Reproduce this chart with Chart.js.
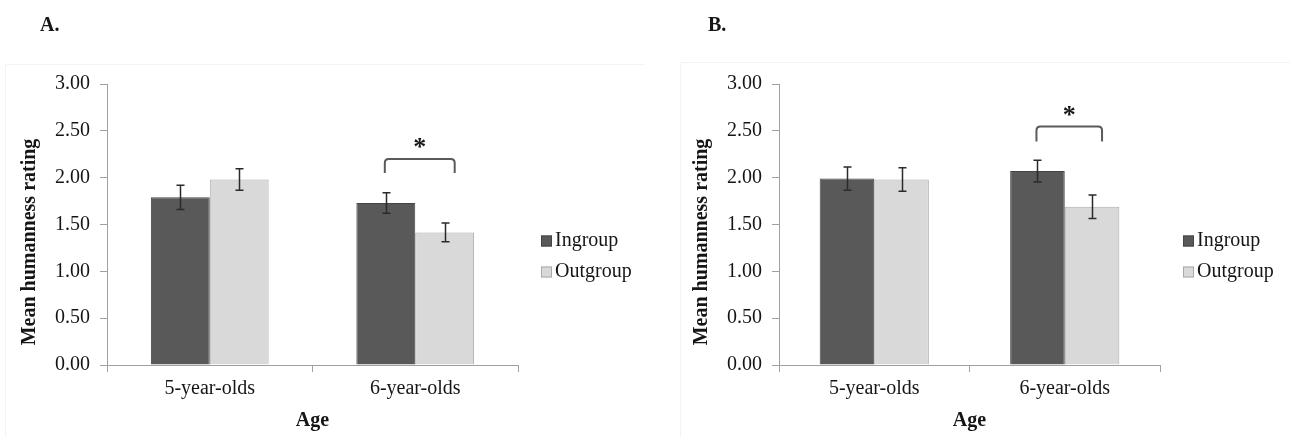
<!DOCTYPE html>
<html>
<head>
<meta charset="utf-8">
<script src="https://cdn.jsdelivr.net/npm/chart.js@4.4.1/dist/chart.umd.min.js"></script>
<style>
  html, body { margin: 0; padding: 0; background: #ffffff; }
  #wrap { position: relative; width: 1290px; height: 437px; overflow: hidden; }
  .panel { position: absolute; top: 0; width: 645px; height: 437px; }
  #pA { left: 0; }
  #pB { left: 645px; }
</style>
</head>
<body>
<div id="wrap">
  <div class="panel" id="pA"><canvas id="cA" width="645" height="437"></canvas></div>
  <div class="panel" id="pB"><canvas id="cB" width="645" height="437"></canvas></div>
</div>
<script>
// ---------------- data ----------------
const categories = ['5-year-olds', '6-year-olds'];
const seriesNames = ['Ingroup', 'Outgroup'];
const yTickLabels = ['0.00', '0.50', '1.00', '1.50', '2.00', '2.50', '3.00'];

const ingroupA = [1.79, 1.73];
const outgroupA = [1.98, 1.415];
const errIngroupA = [0.13, 0.11];
const errOutgroupA = [0.115, 0.10];
const bracketA = [2.05, 2.20];   // [leg end value, bar value] over 6-year-olds

const ingroupB = [1.99, 2.07];
const outgroupB = [1.98, 1.69];
const errIngroupB = [0.125, 0.115];
const errOutgroupB = [0.125, 0.125];
const bracketB = [2.385, 2.545];

const panelLetters = ['A.', 'B.'];
const yTitle = 'Mean humanness rating';
const xTitle = 'Age';
const sigMark = '*';

// ---------------- style ----------------
const FONT = "'Liberation Serif', 'Times New Roman', serif";
const TEXT = '#151515';
const AXIS = '#a0a0a0';
const IN_FILL = '#595959', IN_BORDER = '#454545';
const OUT_FILL = '#d9d9d9', OUT_BORDER = '#aaaaaa';

Chart.defaults.font.family = FONT;
Chart.defaults.font.size = 20;
Chart.defaults.color = TEXT;

const annot = {
  id: 'annot',
  beforeDraw(chart, args, o) {
    const ctx = chart.ctx;
    ctx.save();
    ctx.strokeStyle = '#f3f3f3';
    ctx.lineWidth = 1;
    ctx.beginPath();
    ctx.moveTo(o.frameX + 0.5, chart.height);
    ctx.lineTo(o.frameX + 0.5, o.frameY + 0.5);
    ctx.lineTo(chart.width, o.frameY + 0.5);
    ctx.stroke();
    ctx.restore();
  },
  afterDatasetsDraw(chart, args, o) {
    const ctx = chart.ctx;
    const ys = chart.scales.y;
    ctx.save();
    // error bars
    ctx.strokeStyle = '#2a2a2a';
    ctx.lineWidth = 1.5;
    o.errors.forEach((errs, di) => {
      const meta = chart.getDatasetMeta(di);
      meta.data.forEach((bar, i) => {
        const v = chart.data.datasets[di].data[i];
        const t = ys.getPixelForValue(v + errs[i]);
        const b = ys.getPixelForValue(v - errs[i]);
        const x = Math.round(bar.x) + 0.5;
        ctx.beginPath();
        ctx.moveTo(x, t); ctx.lineTo(x, b);
        ctx.moveTo(x - 4, t); ctx.lineTo(x + 4, t);
        ctx.moveTo(x - 4, b); ctx.lineTo(x + 4, b);
        ctx.stroke();
      });
    });
    // significance bracket
    const idx = o.bracketIndex;
    const x1 = chart.getDatasetMeta(0).data[idx].x - 1;
    const x2 = chart.getDatasetMeta(1).data[idx].x + 10;
    const yLeg = ys.getPixelForValue(o.bracket[0]);
    const yTop = ys.getPixelForValue(o.bracket[1]);
    const r = 4;
    ctx.strokeStyle = '#5a5a5a';
    ctx.lineWidth = 2;
    ctx.beginPath();
    ctx.moveTo(x1, yLeg);
    ctx.lineTo(x1, yTop + r);
    ctx.quadraticCurveTo(x1, yTop, x1 + r, yTop);
    ctx.lineTo(x2 - r, yTop);
    ctx.quadraticCurveTo(x2, yTop, x2, yTop + r);
    ctx.lineTo(x2, yLeg);
    ctx.stroke();
    ctx.fillStyle = TEXT;
    ctx.font = 'bold 26px ' + FONT;
    ctx.textAlign = 'center';
    ctx.textBaseline = 'alphabetic';
    ctx.fillText(sigMark, (x1 + x2) / 2, yTop - 4);
    ctx.restore();
  },
  afterDraw(chart, args, o) {
    const ctx = chart.ctx;
    const ca = chart.chartArea;
    ctx.save();
    ctx.fillStyle = TEXT;
    // panel letter
    ctx.font = 'bold 20px ' + FONT;
    ctx.textAlign = 'left';
    ctx.textBaseline = 'middle';
    ctx.fillText(o.letter, o.letterX, 26);
    // y title
    ctx.save();
    ctx.translate(ca.left - 77, 242);
    ctx.rotate(-Math.PI / 2);
    ctx.textAlign = 'center';
    ctx.textBaseline = 'middle';
    ctx.fillText(yTitle, 0, 0);
    ctx.restore();
    // legend
    const fills = [IN_FILL, OUT_FILL];
    const borders = [IN_BORDER, OUT_BORDER];
    ctx.font = '20px ' + FONT;
    ctx.textAlign = 'left';
    ctx.textBaseline = 'middle';
    chart.data.datasets.forEach((ds, i) => {
      const cy = 241 + i * 31;
      const bx = ca.right + 23;
      ctx.fillStyle = fills[i];
      ctx.fillRect(bx, cy - 5.5, 11, 11);
      ctx.strokeStyle = borders[i];
      ctx.lineWidth = 1;
      ctx.strokeRect(bx + 0.5, cy - 5, 10, 10);
      ctx.fillStyle = TEXT;
      ctx.fillText(ds.label, bx + 14, cy);
    });
    ctx.restore();
  }
};

function makeChart(id, inVals, outVals, inErr, outErr, bracket, opts) {
  return new Chart(document.getElementById(id), {
    type: 'bar',
    data: {
      labels: categories,
      datasets: [
        { label: seriesNames[0], data: inVals, backgroundColor: IN_FILL, borderColor: IN_BORDER, borderWidth: 1 },
        { label: seriesNames[1], data: outVals, backgroundColor: OUT_FILL, borderColor: OUT_BORDER, borderWidth: 1 }
      ]
    },
    options: {
      responsive: false,
      animation: false,
      devicePixelRatio: 1,
      categoryPercentage: 0.573,
      barPercentage: 1.0,
      layout: { padding: { top: 84, bottom: 0, left: opts.padLeft, right: opts.padRight } },
      plugins: {
        legend: { display: false },
        tooltip: { enabled: false },
        annot: {
          errors: [inErr, outErr],
          bracket: bracket,
          bracketIndex: 1,
          letter: opts.letter,
          letterX: opts.letterX,
          frameX: opts.frameX,
          frameY: opts.frameY
        }
      },
      scales: {
        x: {
          type: 'category',
          offset: true,
          grid: { offset: true, drawOnChartArea: false, drawTicks: true, tickLength: 7, color: AXIS },
          border: { color: AXIS, width: 1 },
          ticks: { padding: 5, color: TEXT, font: { size: 20 }, maxRotation: 0 },
          title: { display: true, text: xTitle, color: TEXT, font: { size: 20, weight: 'bold' }, padding: { top: 4, bottom: 4 } },
          afterFit: (s) => { s.height = 72; }
        },
        y: {
          min: 0, max: 3,
          ticks: { stepSize: 0.5, padding: 10, color: TEXT, font: { size: 20 },
                   callback: (v, i) => yTickLabels[i] },
          grid: { drawOnChartArea: false, drawTicks: true, tickLength: 7, color: AXIS },
          border: { color: AXIS, width: 1 },
          afterFit: (s) => { s.width = 60; }
        }
      }
    },
    plugins: [annot]
  });
}

makeChart('cA', ingroupA, outgroupA, errIngroupA, errOutgroupA, bracketA,
  { padLeft: 47, padRight: 127, letter: panelLetters[0], letterX: 40, frameX: 5, frameY: 64 });
makeChart('cB', ingroupB, outgroupB, errIngroupB, errOutgroupB, bracketB,
  { padLeft: 74, padRight: 130, letter: panelLetters[1], letterX: 63, frameX: 35, frameY: 62 });
</script>
</body>
</html>
